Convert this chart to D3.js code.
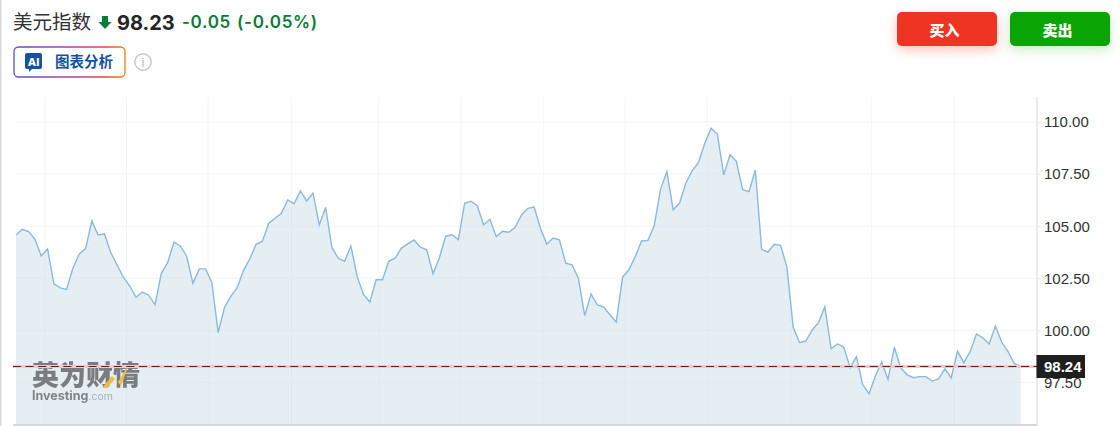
<!DOCTYPE html>
<html>
<head>
<meta charset="utf-8">
<script src="https://cdn.jsdelivr.net/npm/d3@7/dist/d3.min.js"></script>
<style>
  html, body { margin: 0; padding: 0; background: #fff; overflow: hidden; }
  text { font-family: "Noto Sans CJK SC", "Noto Sans", sans-serif; }
  .axis-label { font-family: "Liberation Sans", sans-serif; font-size: 15px; fill: #333; }
</style>
</head>
<body>
<svg id="chart" width="1120" height="426"></svg>
<script>
/* globals d3 */
const closes = [
  104.58, 104.85, 104.74, 104.37, 103.57, 103.92, 102.23, 102.04, 101.97, 102.98,
  103.67, 103.91, 105.25, 104.58, 104.63, 103.73, 103.14, 102.55, 102.13, 101.59,
  101.84, 101.69, 101.23, 102.74, 103.25, 104.24, 104.05, 103.57, 102.26, 102.95,
  102.95, 102.29, 99.89, 101.11, 101.64, 102.05, 102.87, 103.44, 104.13, 104.28,
  105.14, 105.38, 105.62, 106.26, 106.08, 106.69, 106.21, 106.59, 105.06, 105.91,
  103.97, 103.46, 103.32, 104.05, 102.58, 101.71, 101.36, 102.43, 102.43, 103.33,
  103.47, 103.95, 104.15, 104.34, 103.99, 103.87, 102.72, 103.49, 104.52, 104.59,
  104.35, 106.10, 106.20, 105.98, 105.07, 105.33, 104.50, 104.76, 104.71, 104.95,
  105.54, 105.86, 105.92, 104.90, 104.13, 104.43, 104.35, 103.23, 103.15, 102.50,
  100.71, 101.75, 101.22, 101.12, 100.75, 100.40, 102.56, 102.91, 103.54, 104.29,
  104.32, 105.02, 106.77, 107.62, 105.79, 106.10, 107.06, 107.66, 108.05, 108.98,
  109.70, 109.41, 107.46, 108.43, 108.11, 106.75, 106.66, 107.70, 103.89, 103.76,
  104.13, 104.08, 103.04, 100.15, 99.41, 99.49, 100.02, 100.37, 101.14, 99.12,
  99.35, 99.20, 98.21, 98.74, 97.40, 96.96, 97.81, 98.48, 97.65, 99.19,
  98.21, 97.88, 97.73, 97.78, 97.78, 97.57, 97.67, 98.16, 97.73, 99.00,
  98.45, 98.98, 99.83, 99.65, 99.35, 100.21, 99.43, 98.98, 98.40, 98.28
];
const yTicks = [97.5, 100, 102.5, 105, 107.5, 110];
// month boundaries, as positions along the series (the date axis itself is cut off)
const monthTicks = [4.6, 17.5, 30.4, 43.6, 57.4, 70.4, 83.5, 96.4, 109.4, 122.6, 135.4, 148.5];
const lastPrice = 98.24;

const plot = { left: 16, right: 1037, top: 97, bottom: 424 };

const svg = d3.select('#chart');

const x = d3.scaleLinear().domain([0, closes.length - 1]).range([16, 1020.7]);
const y = d3.scaleLinear().domain([110, 97.5]).range([122, 382.5]);

// page edge
svg.append('rect').attr('x', 0).attr('y', 0).attr('width', 1.5).attr('height', 426).attr('fill', '#d9d9d9');

// Header
const defs = svg.append('defs');
const grad = defs.append('linearGradient').attr('id', 'aiBorder')
  .attr('x1', 0).attr('x2', 1).attr('y1', 0).attr('y2', 0);
grad.append('stop').attr('offset', '0%').attr('stop-color', '#5a4fd8');
grad.append('stop').attr('offset', '50%').attr('stop-color', '#b03fb0');
grad.append('stop').attr('offset', '80%').attr('stop-color', '#ee3f4e');
grad.append('stop').attr('offset', '100%').attr('stop-color', '#fb7d0a');

svg.append('text').attr('x', 13).attr('y', 29)
  .attr('font-size', 19.5).attr('fill', '#333').text('美元指数');
svg.append('path')
  .attr('d', 'M102 16h6v6h3.5l-6.5 7-6.5-7h3.5z')
  .attr('fill', '#0a7c3a');
svg.append('text').attr('x', 117).attr('y', 30)
  .style('font-family', 'Inter, "Noto Sans", sans-serif')
  .attr('font-size', 20).attr('font-weight', 700).attr('fill', '#232526').text('98.23');
svg.append('text').attr('x', 182).attr('y', 28)
  .style('font-family', 'Inter, "Noto Sans", sans-serif')
  .style('letter-spacing', '0.7px')
  .attr('font-size', 17).attr('font-weight', 600).attr('fill', '#0a7c3a').text('-0.05');
svg.append('text').attr('x', 237).attr('y', 28)
  .style('font-family', 'Inter, "Noto Sans", sans-serif')
  .style('letter-spacing', '0.7px')
  .attr('font-size', 17).attr('font-weight', 600).attr('fill', '#0a7c3a').text('(-0.05%)');

// AI button
svg.append('rect').attr('x', 14).attr('y', 47).attr('width', 111).attr('height', 30).attr('rx', 4.5)
  .attr('fill', '#fff').attr('stroke', 'url(#aiBorder)').attr('stroke-width', 1.3);
svg.append('path')
  .attr('d', 'M27 53h13a2 2 0 0 1 2 2v12a2 2 0 0 1-2 2h-8l-3 3v-3h-2a2 2 0 0 1-2-2v-12a2 2 0 0 1 2-2z')
  .attr('fill', '#15539e');
svg.append('text').attr('x', 33.5).attr('y', 66).attr('text-anchor', 'middle')
  .style('font-family', 'Inter, sans-serif')
  .attr('font-size', 11).attr('font-weight', 800).attr('fill', '#fff').text('AI');
svg.append('text').attr('x', 55).attr('y', 67)
  .attr('font-size', 14.5).attr('font-weight', 700).attr('fill', '#15539e').text('图表分析');
svg.append('circle').attr('cx', 143).attr('cy', 62).attr('r', 8.2)
  .attr('fill', 'none').attr('stroke', '#c5c7cc').attr('stroke-width', 1.4);
svg.append('text').attr('x', 143).attr('y', 67).attr('text-anchor', 'middle')
  .style('font-family', '"Liberation Sans", sans-serif')
  .attr('font-size', 13).attr('fill', '#b5b7bc').text('i');

// Buy / sell buttons
const buttons = [
  { x: 897, fill: '#ef3424', shadow: 'rgba(239,52,36,0.3)', label: '买入' },
  { x: 1010, fill: '#0aa505', shadow: 'rgba(10,165,5,0.22)', label: '卖出' }
];
buttons.forEach(b => {
  svg.append('rect').attr('x', b.x).attr('y', 12).attr('width', 100).attr('height', 34).attr('rx', 5)
    .attr('fill', b.fill).style('filter', `drop-shadow(0 4px 6px ${b.shadow})`);
  svg.append('text').attr('x', b.x + 47.5).attr('y', 36).attr('text-anchor', 'middle')
    .attr('font-size', 15).attr('font-weight', 900).attr('fill', '#fff').text(b.label);
});

// Area and line
const area = d3.area().x((d, i) => x(i)).y0(plot.bottom).y1(d => y(d));
const line = d3.line().x((d, i) => x(i)).y(d => y(d));

svg.append('path').datum(closes).attr('d', area).attr('fill', '#e4eef3');

// Grid sits over the fill, very faint
svg.append('g').selectAll('line').data(monthTicks).join('line')
  .attr('x1', d => x(d)).attr('x2', d => x(d))
  .attr('y1', plot.top).attr('y2', plot.bottom)
  .attr('stroke', '#dfe3ea').attr('stroke-opacity', 0.35);
svg.append('g').selectAll('line').data(yTicks).join('line')
  .attr('x1', plot.left).attr('x2', plot.right)
  .attr('y1', d => y(d)).attr('y2', d => y(d))
  .attr('stroke', '#dfe3ea').attr('stroke-opacity', 0.35);

svg.append('path').datum(closes).attr('d', line)
  .attr('fill', 'none').attr('stroke', '#8db9da').attr('stroke-width', 1.4);

// Watermark
const mark = svg.append('g').style('filter', 'blur(0.6px)').attr('opacity', 0.9);
mark.append('text').attr('x', 32).attr('y', 385)
  .attr('font-size', 27).attr('font-weight', 900).attr('fill', '#6f7073').text('英为财情');
mark.append('path').attr('d', 'M102 388l10-12 6 6 11-18-8 22-6-7-8 9z').attr('fill', '#f1b63c');
const wordmark = mark.append('text').attr('x', 32).attr('y', 400)
  .style('font-family', 'Inter, sans-serif');
wordmark.append('tspan').attr('font-size', 12.5).attr('font-weight', 700).attr('fill', '#77787b').text('Investing');
wordmark.append('tspan').attr('font-size', 10.5).attr('fill', '#a5a7aa').text('.com');

// Right axis
const yAxis = d3.axisRight(y).tickValues(yTicks).tickFormat(d3.format('.2f')).tickSize(4).tickPadding(3);
const axisG = svg.append('g').attr('transform', `translate(${plot.right},0)`).call(yAxis);
axisG.select('.domain').remove();
axisG.selectAll('line').attr('stroke', '#e6e8ee');
axisG.selectAll('text').attr('class', 'axis-label');
axisG.attr('font-family', null).attr('font-size', null);

svg.append('line').attr('x1', plot.right).attr('x2', plot.right)
  .attr('y1', plot.top).attr('y2', 426)
  .attr('stroke', '#e9ebef').attr('stroke-width', 2);
svg.append('line').attr('x1', 13).attr('x2', plot.right)
  .attr('y1', plot.bottom + 1).attr('y2', plot.bottom + 1)
  .attr('stroke', '#d4d7dd').attr('stroke-width', 2);

// Last price line and tag, snapped to a pixel row so the dashes stay crisp
const priceY = Math.round(y(lastPrice)) - 0.5;
svg.append('line').attr('x1', 13).attr('x2', plot.right)
  .attr('y1', priceY).attr('y2', priceY)
  .attr('stroke', '#f9c6c6').attr('stroke-width', 3);
svg.append('line').attr('x1', 13).attr('x2', plot.right)
  .attr('y1', priceY).attr('y2', priceY)
  .attr('stroke', '#5c2228').attr('stroke-width', 1).attr('stroke-dasharray', '8 4.6');
svg.append('rect').attr('x', plot.right - 0.5).attr('y', 355).attr('width', 48.5).attr('height', 23)
  .attr('fill', '#1f1f1f');
svg.append('text').attr('class', 'axis-label').attr('x', 1044).attr('y', priceY + 5.5)
  .style('fill', '#fff').style('font-weight', 700).text(d3.format('.2f')(lastPrice));
</script>
</body>
</html>
